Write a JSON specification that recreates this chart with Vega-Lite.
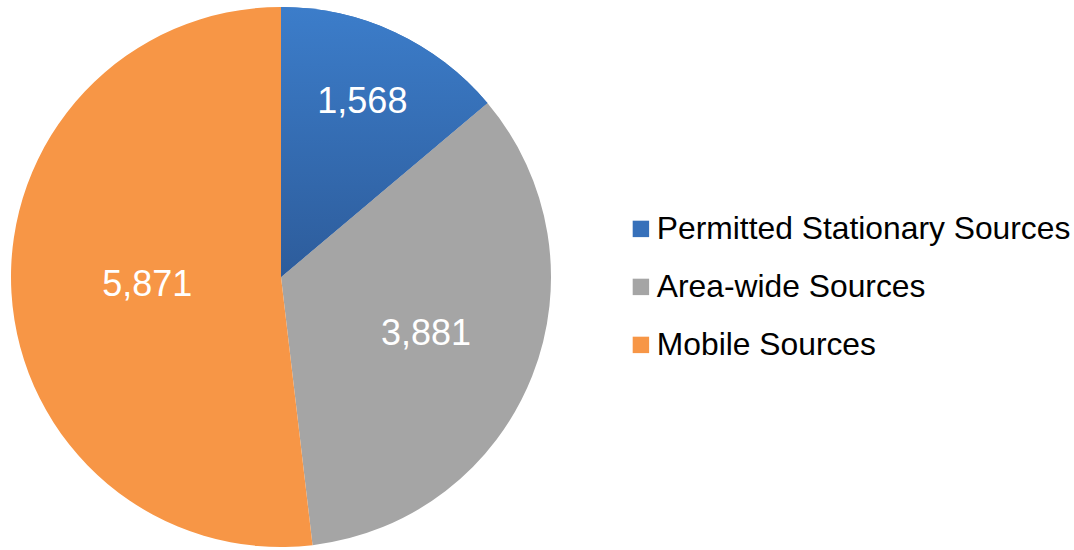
{
  "$schema": "https://vega.github.io/schema/vega-lite/v6.json",
  "width": 562,
  "height": 554,
  "padding": 0,
  "autosize": {"type": "pad"},
  "background": "white",
  "config": {"view": {"stroke": null}, "font": "Liberation Sans"},
  "data": {
    "values": [
      {"source": "Permitted Stationary Sources", "value": 1568, "order": 1},
      {"source": "Area-wide Sources", "value": 3881, "order": 2},
      {"source": "Mobile Sources", "value": 5871, "order": 3}
    ]
  },
  "layer": [
    {
      "mark": {"type": "arc", "outerRadius": 270},
      "encoding": {
        "theta": {"field": "value", "type": "quantitative", "stack": true},
        "order": {"field": "order", "type": "quantitative"},
        "color": {
          "field": "source",
          "type": "nominal",
          "sort": ["Permitted Stationary Sources", "Area-wide Sources", "Mobile Sources"],
          "scale": {
            "domain": ["Permitted Stationary Sources", "Area-wide Sources", "Mobile Sources"],
            "range": ["#3670BA", "#A5A5A5", "#F79646"]
          },
          "legend": {
            "title": null,
            "orient": "none",
            "legendX": 625,
            "legendY": 213,
            "symbolType": "square",
            "symbolSize": 270,
            "symbolStrokeWidth": 0,
            "labelFontSize": 31.8,
            "labelColor": "#000000",
            "labelFont": "Liberation Sans",
            "labelLimit": 500,
            "labelOffset": 0,
            "rowPadding": 25
          }
        }
      }
    },
    {
      "transform": [
        {"stack": "value", "groupby": [], "sort": [{"field": "order"}], "as": ["t0", "t1"]},
        {"filter": "datum.order == 1"}
      ],
      "mark": {
        "type": "arc",
        "outerRadius": 270,
        "color": {"gradient": "linear", "x1": 0, "y1": 0, "x2": 0, "y2": 1, "stops": [{"offset": 0, "color": "#3C7DCA"}, {"offset": 1, "color": "#2D5C9B"}]}
      },
      "encoding": {
        "theta": {"field": "t0", "type": "quantitative"},
        "theta2": {"field": "t1"}
      }
    },
    {
      "mark": {"type": "text", "radius": 193, "fontSize": 36, "color": "white", "font": "Liberation Sans"},
      "encoding": {
        "theta": {"field": "value", "type": "quantitative", "stack": true},
        "order": {"field": "order", "type": "quantitative"},
        "text": {"condition": {"test": "datum.order == 1", "field": "value", "type": "quantitative", "format": ","}, "value": ""}
      }
    },
    {
      "mark": {"type": "text", "radius": 156, "fontSize": 36, "color": "white", "font": "Liberation Sans"},
      "encoding": {
        "theta": {"field": "value", "type": "quantitative", "stack": true},
        "order": {"field": "order", "type": "quantitative"},
        "text": {"condition": {"test": "datum.order == 2", "field": "value", "type": "quantitative", "format": ","}, "value": ""}
      }
    },
    {
      "mark": {"type": "text", "radius": 134, "fontSize": 36, "color": "white", "font": "Liberation Sans"},
      "encoding": {
        "theta": {"field": "value", "type": "quantitative", "stack": true},
        "order": {"field": "order", "type": "quantitative"},
        "text": {"condition": {"test": "datum.order == 3", "field": "value", "type": "quantitative", "format": ","}, "value": ""}
      }
    }
  ]
}
